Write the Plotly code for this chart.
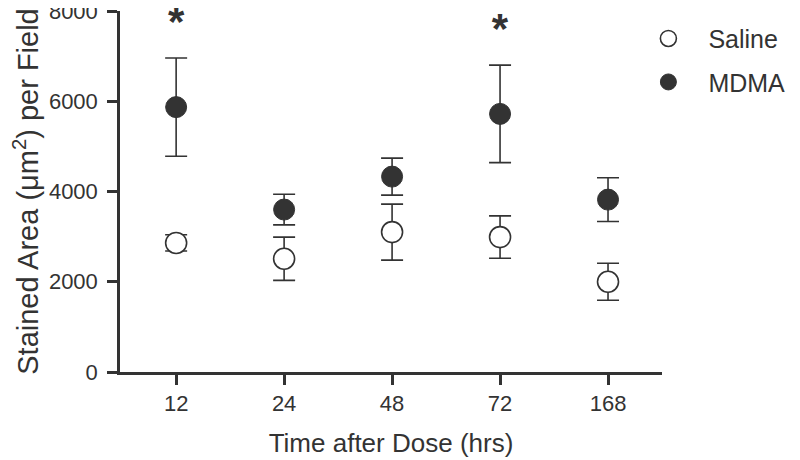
import plotly.graph_objects as go

# data
hours = ["12", "24", "48", "72", "168"]
saline_mean = [2860, 2510, 3100, 2990, 2000]
saline_sem = [180, 480, 620, 470, 410]
mdma_mean = [5870, 3600, 4330, 5720, 3820]
mdma_sem = [1090, 340, 410, 1080, 485]
significant = [True, False, False, True, False]

ink = "#333333"
font = "Liberation Sans, Arial, sans-serif"
star_gap = 250  # lift of the asterisk above the error bar, in axis units

fig = go.Figure()

fig.add_trace(go.Scatter(
    x=hours, y=saline_mean, name="Saline", mode="markers", legendgroup="s",
    marker=dict(size=21, color="white", line=dict(color=ink, width=1.6)),
    error_y=dict(type="data", array=saline_sem, color=ink, thickness=1.6, width=11),
))
fig.add_trace(go.Scatter(
    x=hours, y=mdma_mean, name="MDMA", mode="markers", legendgroup="m",
    marker=dict(size=21, color=ink, line=dict(color=ink, width=1)),
    error_y=dict(type="data", array=mdma_sem, color=ink, thickness=1.6, width=11),
))

# significance asterisks above the MDMA error bars
star_x = [h for h, s in zip(hours, significant) if s]
star_y = [m + e + star_gap for m, e, s in zip(mdma_mean, mdma_sem, significant) if s]
fig.add_trace(go.Scatter(
    x=star_x, y=star_y, mode="text", text=["<b>*</b>"] * len(star_x),
    textposition="top center", textfont=dict(size=42, color=ink, family=font),
    showlegend=False, hoverinfo="skip", cliponaxis=False,
))

# the page body adds an 8px offset, so the figure is 8px smaller to fit the window
fig.update_layout(
    width=792, height=452,
    paper_bgcolor="white", plot_bgcolor="white",
    margin=dict(l=112, r=138, t=3, b=88),
    font=dict(family=font, color=ink, size=22),
    showlegend=True,
    legend=dict(x=0.938, y=0.987, xanchor="left", yanchor="top",
                font=dict(size=25, color=ink), itemwidth=70,
                tracegroupgap=8, bgcolor="rgba(0,0,0,0)"),
    xaxis=dict(
        type="category", range=[-0.52, 4.5], automargin=False,
        showline=True, linecolor=ink, linewidth=2.5,
        ticks="outside", ticklen=10, tickwidth=2.5, tickcolor=ink,
        showgrid=False, zeroline=False,
        tickfont=dict(size=22),
        title=dict(text="Time after Dose (hrs)", font=dict(size=26), standoff=19),
    ),
    yaxis=dict(
        range=[0, 8000], tickvals=[0, 2000, 4000, 6000, 8000], automargin=False,
        ticklabeloverflow="allow", ticklabelstandoff=5,
        showline=True, linecolor=ink, linewidth=2.5,
        ticks="outside", ticklen=10, tickwidth=2.5, tickcolor=ink,
        showgrid=False, zeroline=False,
        tickfont=dict(size=22),
        title=dict(text="Stained Area (μm<sup>2</sup>) per Field", font=dict(size=29), standoff=8),
    ),
)

fig.write_html("out.html")
